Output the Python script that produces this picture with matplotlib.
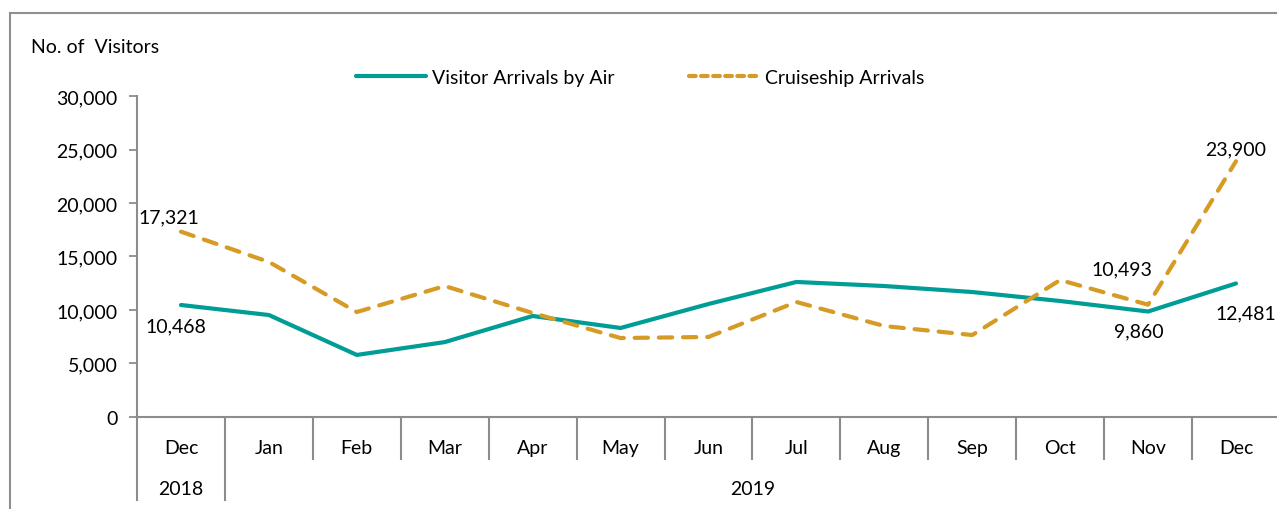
import matplotlib
matplotlib.use("Agg")
import matplotlib.pyplot as plt
import matplotlib.transforms as mtransforms
from matplotlib.patches import Rectangle
from matplotlib.ticker import FuncFormatter
from matplotlib.legend_handler import HandlerLine2D

plt.rcParams['font.family'] = ['Lato', 'DejaVu Sans']

# data
months = ['Dec', 'Jan', 'Feb', 'Mar', 'Apr', 'May', 'Jun',
          'Jul', 'Aug', 'Sep', 'Oct', 'Nov', 'Dec']
years = ['2018', '2019']
year_spans = [(0, 0), (1, 12)]  # first and last month index for each year
air = [10468, 9530, 5800, 7000, 9440, 8320, 10560,
       12620, 12240, 11680, 10840, 9860, 12481]
cruise = [17321, 14490, 9810, 12240, 9720, 7380, 7480,
          10750, 8500, 7660, 12800, 10493, 23900]

teal = '#009C96'
gold = '#D69B25'
grey = '#8C8C8C'
fs = 14

fig = plt.figure(figsize=(12.77, 5.10), dpi=100)
ax = fig.add_axes([0.1073, 0.1804, 0.895, 0.6294])

x = list(range(len(months)))
ax.plot(x, air, color=teal, lw=3.0, solid_capstyle='round',
        label='Visitor Arrivals by Air')
ln_cruise, = ax.plot(x, cruise, color=gold, lw=3.0, ls=(0, (3.2, 2.6)),
                     dash_capstyle='round', label='Cruiseship Arrivals')

ax.set_xlim(-0.5, len(months) - 0.5)
ax.set_ylim(0, 30000)
ax.set_yticks(range(0, 30001, 5000))
ax.yaxis.set_major_formatter(FuncFormatter(lambda v, p: f'{int(v):,}'))
ax.tick_params(axis='y', length=6, width=1.3, color=grey, labelsize=fs, pad=8)
ax.set_xticks(x)
ax.set_xticklabels(months)
ax.tick_params(axis='x', length=0, labelsize=fs, pad=16)

for s in ['top', 'right']:
    ax.spines[s].set_visible(False)
for s in ['left', 'bottom']:
    ax.spines[s].set_color(grey)
    ax.spines[s].set_linewidth(1.5)

# category separators below the axis
trans = mtransforms.blended_transform_factory(ax.transData, ax.transAxes)
year_bounds = set()
for a, b in year_spans:
    year_bounds.add(a - 0.5)
    year_bounds.add(b + 0.5)
for i in range(len(months) + 1):
    xb = i - 0.5
    low = -0.259 if xb in year_bounds and xb < len(months) - 1 else -0.131
    ax.plot([xb, xb], [0, low], transform=trans, color=grey, lw=1.5,
            clip_on=False)

for yr, (a, b) in zip(years, year_spans):
    ax.text((a + b) / 2, -0.222, yr, transform=trans, ha='center',
            va='center', fontsize=fs)

# data labels
def lab(i, series, txt_dx, txt_dy, ha='center'):
    ax.annotate(f'{series[i]:,}', (i, series[i]), xytext=(txt_dx, txt_dy),
                textcoords='offset points', ha=ha, va='center', fontsize=fs)

lab(0, cruise, -9, 11)
lab(0, air, -4, -15)
lab(11, air, -7, -14)
lab(11, cruise, -19, 26)
lab(12, cruise, 0, 9)
lab(12, air, 7, -21)

ax.text(-0.0927, 1.153, 'No. of  Visitors', transform=ax.transAxes,
        fontsize=fs, ha='left', va='center')


def short_dashes(handle, orig):
    handle.update_from(orig)
    handle.set_linestyle((0, (1.6, 1.3)))


ax.legend(loc='center', bbox_to_anchor=(0.44, 1.059), ncol=2,
          frameon=False, fontsize=fs, handlelength=3.6,
          columnspacing=3.85, handletextpad=0.3,
          handler_map={ln_cruise: HandlerLine2D(update_func=short_dashes)})

# outer chart frame (partly cropped in the reference)
fig.patches.append(Rectangle((0.0078, -0.1), 1.1, 1.0725, transform=fig.transFigure,
                             fill=False, edgecolor='#8F8F8F', lw=1.5))

fig.savefig('out.png', dpi=100)
